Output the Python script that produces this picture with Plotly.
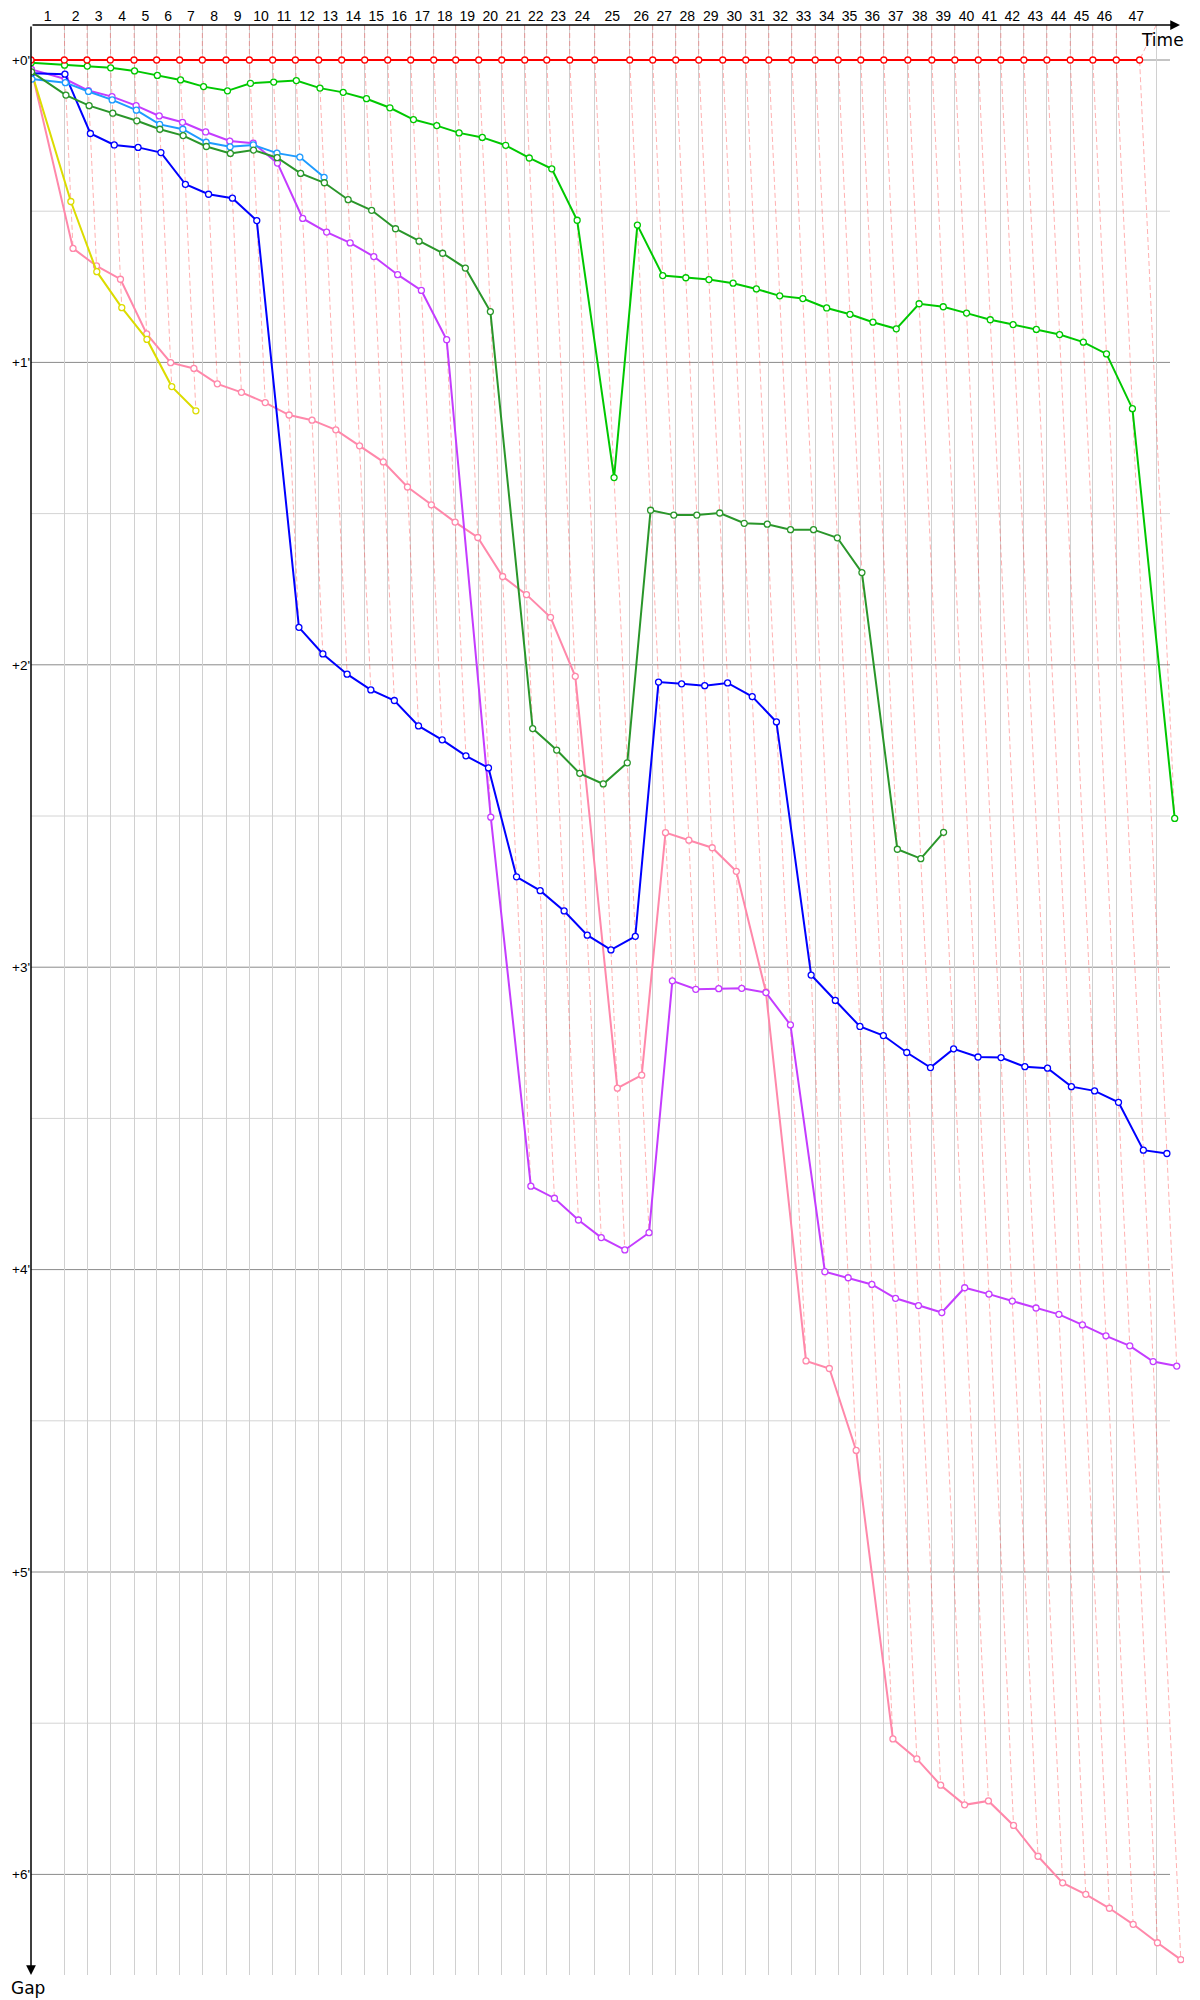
import plotly.graph_objects as go

# leader lap times in seconds, laps 1..47
LAP_TIMES_S = [142.7, 97.3, 99.9, 101.6, 96.9, 98.6, 97.3, 101.6, 99.9, 99.9,
               97.3, 99.9, 98.6, 98.6, 98.6, 98.6, 98.6, 94.3, 98.6, 98.6,
               98.6, 94.3, 98.6, 107.1, 150.0, 98.6, 98.6, 98.6, 102.9, 98.6,
               98.6, 98.6, 100.3, 98.6, 96.9, 98.6, 102.9, 102.9, 98.6, 100.3,
               96.9, 98.6, 98.6, 100.3, 96.9, 100.3, 99.9]
FINISH_AFTER_LAST_S = 71.6

# gap to leader in minutes, index = lap (0 = start)
GAP_LEADER = [0.0] * 48
GAP_LIME = [0.009, 0.017, 0.020, 0.026, 0.036, 0.051, 0.066, 0.088, 0.102, 0.077,
            0.073, 0.068, 0.093, 0.107, 0.128, 0.158, 0.197, 0.217, 0.241, 0.256,
            0.282, 0.324, 0.360, 0.530, 1.381, 0.546, 0.713, 0.720, 0.726, 0.738,
            0.757, 0.780, 0.789, 0.820, 0.841, 0.867, 0.889, 0.806, 0.816, 0.837,
            0.859, 0.875, 0.891, 0.908, 0.933, 0.972, 1.153, 2.508]
GAP_DKGREEN = [0.039, 0.116, 0.151, 0.176, 0.201, 0.229, 0.250, 0.286, 0.309, 0.298,
               0.323, 0.375, 0.406, 0.462, 0.497, 0.558, 0.599, 0.639, 0.688, 0.832,
               2.211, 2.282, 2.359, 2.394, 2.324, 1.489, 1.505, 1.505, 1.498, 1.532,
               1.535, 1.553, 1.553, 1.580, 1.695, 2.610, 2.641, 2.554]
GAP_BLUE = [0.044, 0.047, 0.243, 0.281, 0.289, 0.306, 0.411, 0.444, 0.457, 0.531,
            1.876, 1.964, 2.031, 2.083, 2.118, 2.202, 2.248, 2.301, 2.341, 2.701,
            2.747, 2.814, 2.894, 2.943, 2.898, 2.057, 2.063, 2.069, 2.060, 2.105,
            2.189, 3.026, 3.110, 3.196, 3.226, 3.282, 3.332, 3.270, 3.297, 3.299,
            3.329, 3.334, 3.395, 3.409, 3.447, 3.605, 3.616]
GAP_PURPLE = [0.031, 0.063, 0.101, 0.121, 0.151, 0.185, 0.206, 0.238, 0.268, 0.275,
              0.341, 0.524, 0.569, 0.605, 0.650, 0.710, 0.762, 0.925, 2.504, 3.724,
              3.764, 3.836, 3.894, 3.935, 3.878, 3.045, 3.073, 3.071, 3.070, 3.084,
              3.191, 4.007, 4.027, 4.049, 4.095, 4.119, 4.142, 4.060, 4.081, 4.104,
              4.127, 4.148, 4.183, 4.219, 4.252, 4.304, 4.319]
GAP_PINK = [0.033, 0.623, 0.681, 0.725, 0.906, 1.001, 1.020, 1.071, 1.099, 1.133,
            1.174, 1.191, 1.223, 1.276, 1.329, 1.412, 1.471, 1.528, 1.579, 1.708,
            1.768, 1.843, 2.038, 3.400, 3.357, 2.555, 2.580, 2.605, 2.683, 3.082,
            4.302, 4.327, 4.598, 5.552, 5.618, 5.705, 5.770, 5.757, 5.838, 5.940,
            6.028, 6.066, 6.112, 6.165, 6.226, 6.282]
GAP_LIGHTBLUE = [0.063, 0.075, 0.104, 0.132, 0.166, 0.213, 0.229, 0.272, 0.287, 0.281,
                 0.308, 0.321, 0.388]
GAP_YELLOW = [0.040, 0.468, 0.700, 0.819, 0.924, 1.080, 1.160]

GAP_TICKS = [0, 1, 2, 3, 4, 5, 6]

SERIES = [
    (GAP_PINK, "#ff88aa"),
    (GAP_YELLOW, "#dcdc00"),
    (GAP_PURPLE, "#c43cff"),
    (GAP_BLUE, "#0000ff"),
    (GAP_LIGHTBLUE, "#1e9bff"),
    (GAP_DKGREEN, "#2a962a"),
    (GAP_LIME, "#00c800"),
    (GAP_LEADER, "#ff0000"),
]

# pixel scale of the original chart
PX_X = 14.0      # px per minute of race time
PX_Y = 302.4     # px per minute of gap
LEFT, RIGHT, TOP, BOTTOM = 31, 1184, 25, 1975
Y_TOP = -(60 - TOP) / PX_Y
Y_BOT = Y_TOP + (BOTTOM - TOP) / PX_Y
X_MAX = (RIGHT - LEFT) / PX_X
X_GRID_END = (1170 - LEFT) / PX_X
X_ARROW = (1180 - LEFT) / PX_X
TICK_FONT = "Liberation Sans, Arial, sans-serif"

lead_t = [0.0]
for s in LAP_TIMES_S:
    lead_t.append(lead_t[-1] + s / 60.0)
finish_t = lead_t[-1] + FINISH_AFTER_LAST_S / 60.0
bounds = lead_t[:-1] + [finish_t]
label_pos = [(bounds[i] + bounds[i + 1]) / 2 for i in range(len(bounds) - 1)]

fig = go.Figure()

# lap lines joining every car's crossing of the same lap
dx, dy = [], []
for n in range(1, len(lead_t)):
    pts = sorted({(lead_t[n] + g[n], g[n]) for g, _ in SERIES if n < len(g)},
                 key=lambda p: p[1])
    dx += [bounds[n]] + [p[0] for p in pts] + [None]
    dy += [Y_TOP] + [p[1] for p in pts] + [None]
fig.add_trace(go.Scatter(x=dx, y=dy, mode="lines", hoverinfo="skip",
                         line=dict(color="rgba(255,60,60,0.4)", width=1, dash="5px,3px")))

for gaps, color in SERIES:
    xs = [lead_t[i] + g for i, g in enumerate(gaps)]
    fig.add_trace(go.Scatter(
        x=xs, y=gaps, mode="lines+markers",
        line=dict(color=color, width=2),
        marker=dict(symbol="circle", size=6, color="white",
                    line=dict(color=color, width=1.3)),
    ))

shapes = []
for k in range(0, 13):
    v = k / 2
    shapes.append(dict(type="line", xref="x", yref="y", x0=0, x1=X_GRID_END, y0=v, y1=v,
                       layer="below",
                       line=dict(color="#8a8a8a" if k % 2 == 0 else "#d4d4d4", width=1)))

fig.update_layout(
    width=1200, height=2000,
    margin=dict(l=LEFT, r=1200 - RIGHT, t=TOP, b=2000 - BOTTOM),
    paper_bgcolor="white", plot_bgcolor="white",
    showlegend=False,
    font=dict(family="DejaVu Sans, Verdana, sans-serif", color="black", size=11),
    shapes=shapes,
    xaxis=dict(
        side="top", range=[0, X_MAX], showgrid=False, zeroline=False, showline=False,
        automargin=False,
        tickmode="array", tickvals=label_pos,
        ticktext=[str(i + 1) for i in range(len(label_pos))],
        ticks="", tickfont=dict(family=TICK_FONT, size=14),
        minor=dict(tickmode="array", tickvals=bounds[1:], showgrid=True,
                   gridcolor="#d0d0d0", gridwidth=1, ticks=""),
    ),
    yaxis=dict(
        range=[Y_BOT, Y_TOP], showgrid=False, zeroline=False, showline=False,
        automargin=False,
        tickmode="array", tickvals=GAP_TICKS,
        ticktext=["+%d'" % v for v in GAP_TICKS],
        ticks="", tickfont=dict(family=TICK_FONT, size=13.5),
    ),
    annotations=[
        dict(x=X_ARROW, y=Y_TOP, ax=0, ay=Y_TOP, xref="x", yref="y", axref="x", ayref="y",
             text="", showarrow=True, arrowhead=2, arrowsize=1.3, arrowwidth=1.5,
             arrowcolor="black"),
        dict(x=0, y=Y_BOT, ax=0, ay=Y_TOP, xref="x", yref="y", axref="x", ayref="y",
             text="", showarrow=True, arrowhead=2, arrowsize=1.3, arrowwidth=1.5,
             arrowcolor="black"),
        dict(x=1, y=1, xref="paper", yref="paper", xanchor="right", yanchor="top",
             text="Time", showarrow=False, font=dict(size=17), xshift=2, yshift=-3),
        dict(x=0, y=0, xref="paper", yref="paper", xanchor="center", yanchor="top",
             text="Gap", showarrow=False, font=dict(size=17), xshift=-3, yshift=-1),
    ],
)

fig.write_html("out.html", config={"displayModeBar": False},
               post_script="document.body.style.margin='0px';")
